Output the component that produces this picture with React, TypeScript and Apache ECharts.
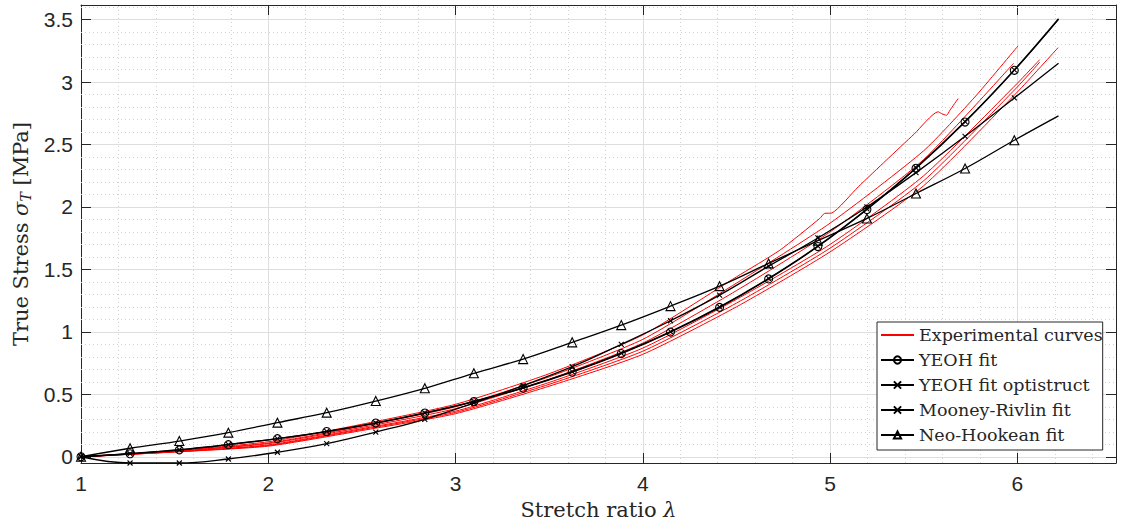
import React, { useEffect, useRef } from "react";
import * as echarts from "echarts";

// ---- data ----
const fitMarkerX = [1, 1.262, 1.525, 1.787, 2.049, 2.312, 2.574, 2.836, 3.098, 3.361, 3.623, 3.885, 4.148, 4.41, 4.672, 4.935, 5.197, 5.459, 5.721, 5.984];
const fitEndX = 6.22;

const yeohFit = [0, 0.024, 0.055, 0.097, 0.145, 0.202, 0.27, 0.35, 0.442, 0.55, 0.678, 0.826, 0.998, 1.196, 1.424, 1.683, 1.98, 2.31, 2.68, 3.094];
const yeohFitEnd = 3.502;
const yeohOpti = [0, 0.025, 0.056, 0.098, 0.146, 0.203, 0.272, 0.352, 0.444, 0.553, 0.681, 0.83, 1.002, 1.2, 1.428, 1.687, 1.984, 2.314, 2.684, 3.098];
const yeohOptiEnd = 3.507;
const mooneyFit = [0, -0.05, -0.05, -0.018, 0.036, 0.105, 0.198, 0.3, 0.43, 0.57, 0.721, 0.9, 1.089, 1.294, 1.526, 1.752, 2.0, 2.275, 2.566, 2.873];
const mooneyFitEnd = 3.15;
const neoFit = [0, 0.068, 0.126, 0.193, 0.273, 0.353, 0.446, 0.548, 0.668, 0.782, 0.916, 1.054, 1.206, 1.366, 1.548, 1.73, 1.908, 2.108, 2.308, 2.534];
const neoFitEnd = 2.729;

const exp1X = [1, 1.5, 2, 2.5, 3, 3.5, 4, 4.5, 4.732, 4.945, 4.97, 5.01, 5.15, 5.3, 5.45, 5.577, 5.595, 5.622, 5.64, 5.684];
const exp1Y = [0, 0.048, 0.12, 0.26, 0.42, 0.665, 0.975, 1.44, 1.654, 1.908, 1.948, 1.952, 2.16, 2.374, 2.585, 2.762, 2.748, 2.734, 2.774, 2.868];
const exp2X = [1, 1.5, 2, 2.5, 3, 3.5, 4, 4.5, 5, 5.5, 5.773, 6.004];
const exp2Y = [0, 0.045, 0.11, 0.245, 0.4, 0.64, 0.94, 1.39, 1.87, 2.45, 2.88, 3.29];
const exp3X = [1, 1.5, 2, 2.5, 3, 3.5, 4, 4.5, 5, 5.5, 5.98];
const exp3Y = [0, 0.043, 0.105, 0.235, 0.385, 0.62, 0.91, 1.33, 1.8, 2.38, 3.15];
const exp4X = [1, 1.5, 2, 2.5, 3, 3.5, 4, 4.5, 5, 5.5, 6.0, 6.218];
const exp4Y = [0, 0.038, 0.085, 0.21, 0.345, 0.565, 0.82, 1.2, 1.64, 2.17, 2.92, 3.276];
const exp5X = [1, 1.5, 2, 2.5, 3, 3.5, 4, 4.5, 5, 5.5, 6.0, 6.12];
const exp5Y = [0, 0.04, 0.095, 0.225, 0.365, 0.595, 0.87, 1.26, 1.7, 2.25, 2.99, 3.18];
const exp6X = [1, 1.5, 2, 2.5, 3, 3.5, 4, 4.5, 5, 5.5, 6.0, 6.12];
const exp6Y = [0, 0.039, 0.09, 0.218, 0.355, 0.58, 0.845, 1.23, 1.67, 2.21, 2.96, 3.16];

const legendNames = ["Experimental curves", "YEOH fit", "YEOH fit optistruct", "Mooney-Rivlin fit", "Neo-Hookean fit"];
const xMinorGrid = [1.2, 1.4, 1.6, 1.8, 2.2, 2.4, 2.6, 2.8, 3.2, 3.4, 3.6, 3.8, 4.2, 4.4, 4.6, 4.8, 5.2, 5.4, 5.6, 5.8, 6.2, 6.4];
const yMinorGrid = [0.1, 0.2, 0.3, 0.4, 0.6, 0.7, 0.8, 0.9, 1.1, 1.2, 1.3, 1.4, 1.6, 1.7, 1.8, 1.9, 2.1, 2.2, 2.3, 2.4, 2.6, 2.7, 2.8, 2.9, 3.1, 3.2, 3.3, 3.4, 3.6];

const X_MIN = 1;
const X_MAX = 6.527;
const Y_MIN = -0.05;
const Y_MAX = 3.617;

const AX = "#262626";
const SANS = "Liberation Sans";
const SERIF = "DejaVu Serif";
const CROSS = "path://M0,0L10,10M10,0L0,10";

function pairs(xs: number[], ys: number[]) {
  return xs.map((x, i) => [x, ys[i]]);
}

function fitData(ys: number[], end: number) {
  const d: any[] = fitMarkerX.map((x, i) => [x, ys[i]]);
  d.push({ value: [fitEndX, end], symbol: "none" });
  return d;
}

export default function App() {
  const ref = useRef<HTMLDivElement>(null);

  useEffect(() => {
    if (!ref.current) return;
    const chart = echarts.init(ref.current, null, { renderer: "svg" });

    const expSets = [
      [exp1X, exp1Y],
      [exp2X, exp2Y],
      [exp3X, exp3Y],
      [exp4X, exp4Y],
      [exp5X, exp5Y],
      [exp6X, exp6Y],
    ];

    const expSeries = expSets.map(([xs, ys], i) => ({
      name: "Experimental curves",
      type: "line",
      data: pairs(xs, ys),
      smooth: 0.2,
      symbol: "none",
      lineStyle: { color: "#ff0000", width: 1 },
      itemStyle: { color: "#ff0000" },
      z: 3,
      silent: true,
      ...(i === 0
        ? {
            markLine: {
              silent: true,
              z: 1,
              symbol: ["none", "none"],
              label: { show: false },
              lineStyle: { color: "#d2d2d2", type: [1, 3], width: 1 },
              data: [
                ...xMinorGrid.map((v) => ({ xAxis: v })),
                ...yMinorGrid.map((v) => ({ yAxis: v })),
              ],
            },
          }
        : {}),
    }));

    const fitBase = (name: string, ys: number[], end: number, symbol: string, size: number) => ({
      name,
      type: "line",
      data: fitData(ys, end),
      smooth: 0.4,
      symbol,
      symbolSize: size,
      showAllSymbol: true,
      lineStyle: { color: "#000", width: 1.3 },
      itemStyle: { color: "rgba(0,0,0,0)", borderColor: "#000", borderWidth: 1.1 },
      z: 4,
      silent: true,
    });

    const option: any = {
      animation: false,
      backgroundColor: "#ffffff",
      grid: { left: 81, right: 6, top: 5, bottom: 66, containLabel: false },
      legend: {
        data: [
          { name: legendNames[0], itemStyle: { opacity: 0 } },
          ...legendNames.slice(1).map((n) => ({ name: n })),
        ],
        orient: "vertical",
        left: 877,
        top: 322,
        itemWidth: 33,
        itemHeight: 9,
        itemGap: 7,
        padding: [4, 0, 6, 3],
        backgroundColor: "#ffffff",
        borderColor: AX,
        borderWidth: 1,
        borderRadius: 0,
        textStyle: { fontFamily: SERIF, fontSize: 17.5, color: AX, lineHeight: 18 },
      },
      xAxis: [
        {
          type: "value",
          min: X_MIN,
          max: X_MAX,
          interval: 1,
          position: "bottom",
          name: "Stretch ratio {i|λ}",
          nameLocation: "middle",
          nameGap: 36,
          nameTextStyle: {
            fontFamily: SERIF,
            fontSize: 21,
            color: AX,
            rich: { i: { fontFamily: SERIF, fontSize: 21, fontStyle: "italic", color: AX } },
          },
          axisLine: { show: true, onZero: false, lineStyle: { color: AX, width: 1 } },
          axisTick: { show: true, inside: true, length: 10, lineStyle: { color: AX, width: 1 } },
          axisLabel: { fontFamily: SANS, fontSize: 21, color: AX, margin: 10, showMaxLabel: false },
          splitLine: { show: true, lineStyle: { color: "#dedede", width: 1 } },
        },
        {
          type: "value",
          min: X_MIN,
          max: X_MAX,
          interval: 1,
          position: "top",
          axisLine: { show: true, onZero: false, lineStyle: { color: AX, width: 1 } },
          axisTick: { show: true, inside: true, length: 10, lineStyle: { color: AX, width: 1 } },
          axisLabel: { show: false },
          splitLine: { show: false },
        },
      ],
      yAxis: [
        {
          type: "value",
          min: Y_MIN,
          max: Y_MAX,
          splitNumber: 7,
          position: "left",
          name: "True Stress {i|σ}{sub|T} [MPa]",
          nameLocation: "middle",
          nameRotate: 90,
          nameGap: 46,
          nameTextStyle: {
            fontFamily: SERIF,
            fontSize: 21,
            color: AX,
            rich: {
              i: { fontFamily: SERIF, fontSize: 21, fontStyle: "italic", color: AX },
              sub: { fontFamily: SERIF, fontSize: 14, fontStyle: "italic", color: AX, padding: [10, 0, 0, 0] },
            },
          },
          axisLine: { show: true, onZero: false, lineStyle: { color: AX, width: 1 } },
          axisTick: { show: true, inside: true, length: 10, lineStyle: { color: AX, width: 1 } },
          axisLabel: { fontFamily: SANS, fontSize: 21, color: AX, margin: 8, showMinLabel: false, showMaxLabel: false },
          splitLine: { show: true, lineStyle: { color: "#dedede", width: 1 } },
        },
        {
          type: "value",
          min: Y_MIN,
          max: Y_MAX,
          splitNumber: 7,
          position: "right",
          axisLine: { show: true, onZero: false, lineStyle: { color: AX, width: 1 } },
          axisTick: { show: true, inside: true, length: 10, lineStyle: { color: AX, width: 1 } },
          axisLabel: { show: false },
          splitLine: { show: false },
        },
      ],
      series: [
        ...expSeries,
        fitBase("YEOH fit", yeohFit, yeohFitEnd, "circle", 8),
        fitBase("YEOH fit optistruct", yeohOpti, yeohOptiEnd, CROSS, 5),
        fitBase("Mooney-Rivlin fit", mooneyFit, mooneyFitEnd, CROSS, 5),
        fitBase("Neo-Hookean fit", neoFit, neoFitEnd, "triangle", 9),
      ],
    };

    chart.setOption(option);
    return () => {
      chart.dispose();
    };
  }, []);

  return (
    <div
      ref={ref}
      style={{ position: "absolute", left: 0, top: 0, width: 1122, height: 529, background: "#fff" }}
    />
  );
}
